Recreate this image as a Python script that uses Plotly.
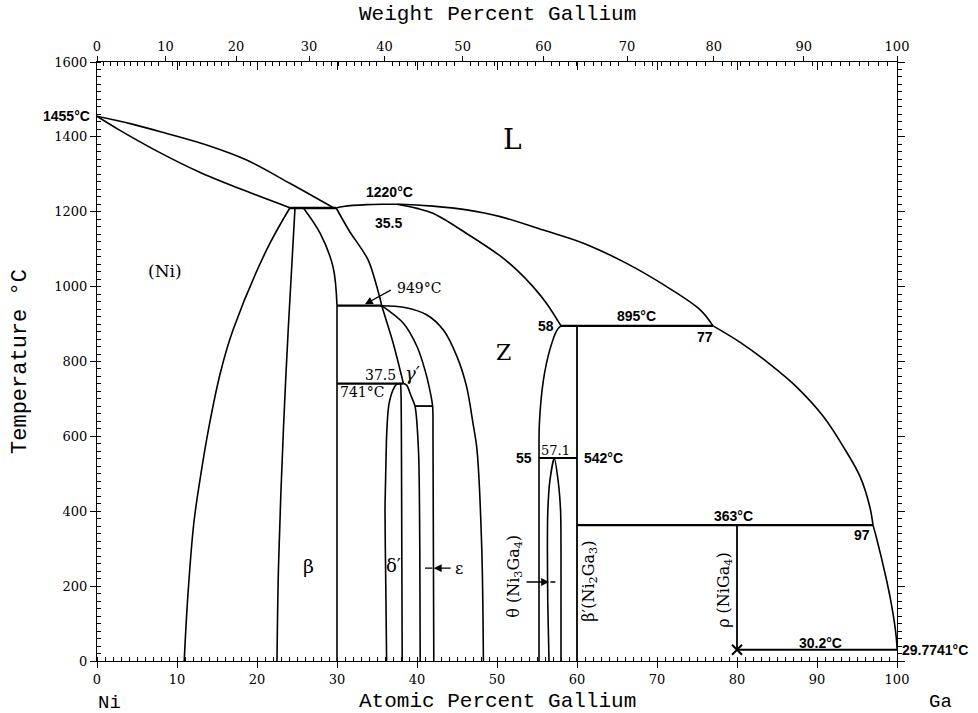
import plotly.graph_objects as go

# ---------------- data (atomic % Ga, temperature degC) ----------------
ni_liquidus_at = [0, 4.4, 8.7, 13.7, 18.7, 24.1, 29.6]
ni_liquidus_T = [1455, 1434, 1409, 1378, 1338, 1276, 1210]

ni_solidus_at = [0, 2.5, 7.5, 12.9, 19.5, 24.1]
ni_solidus_T = [1455, 1422, 1362, 1305, 1248, 1211]

eutectic_1210_at = [24.1, 29.9]
eutectic_1210_T = [1210, 1210]

# liquidus on the Ga-rich side, split at the invariant points (895 and 363 degC)
liquidus_hump_at = [29.9, 30.8, 33.7, 36.0, 37.9, 42.0, 46.2, 50.4, 55.8, 60.8, 66.2, 71.2, 75.4, 77.0]
liquidus_hump_T = [1210, 1214, 1219, 1220, 1220, 1215, 1205, 1187, 1151, 1116, 1062, 1000, 938, 895]

liquidus_mid_at = [77.0, 80.4, 84.1, 87.5, 90.8, 93.3, 95.4, 96.6, 97.0]
liquidus_mid_T = [895, 851, 793, 731, 653, 572, 492, 412, 363]

liquidus_ga_at = [97.0, 97.4, 98.6, 99.2, 99.8, 100.0, 100.0]
liquidus_ga_T = [363, 332, 225, 163, 83, 38, 29.8]

beta_solidus_at = [37.5, 40.0, 42.0, 46.2, 50.4, 52.5, 54.5, 56.2, 58.0]
beta_solidus_T = [1220, 1209, 1196, 1142, 1082, 1044, 1000, 955, 895]

ni_solvus_at = [24.1, 21.2, 17.0, 15.4, 14.0, 13.0, 12.1, 11.35, 10.9]
ni_solvus_T = [1210, 1098, 884, 768, 626, 501, 368, 172, 0]

beta_left_at = [24.75, 23.9, 23.3, 22.7, 22.5]
beta_left_T = [1210, 884, 617, 261, 0]

beta_right_at = [25.8, 27.9, 29.5, 30.0]
beta_right_T = [1210, 1142, 1053, 949]

vertical_30_at = [30, 30]
vertical_30_T = [949, 0]

line_949_at = [30, 35.6]
line_949_T = [949, 949]

curve_d_at = [29.9, 31.5, 33.9, 35.3, 35.6, 37.0, 38.1, 38.3]
curve_d_T = [1210, 1150, 1071, 975, 949, 851, 759, 741]

curve_e_at = [35.6, 38.3, 40.0, 41.0, 41.6, 41.95, 42.0, 42.1]
curve_e_T = [949, 902, 840, 777, 724, 681, 590, 0]

curve_f_at = [35.6, 38.3, 41.2, 43.3, 45.0, 46.2, 47.0, 47.5, 48.1, 48.3]
curve_f_T = [949, 945, 925, 884, 813, 733, 635, 564, 297, 0]

line_741_at = [30, 38.3]
line_741_T = [741, 741]

curve_g_at = [38.3, 38.7, 39.3, 39.75, 40.2, 40.35, 40.4]
curve_g_T = [741, 737, 706, 681, 555, 300, 0]

line_681_at = [39.75, 42.0]
line_681_T = [681, 681]

delta_dome_at = [36.2, 36.1, 36.0, 36.1, 36.2, 36.4, 36.6, 37.0, 37.4, 37.9, 38.0, 38.05, 38.1, 38.15]
delta_dome_T = [0, 200, 400, 510, 600, 671, 697, 724, 738, 741, 715, 600, 300, 0]

z_left_at = [58.0, 57.5, 56.6, 55.8, 55.3, 55.25, 55.25]
z_left_T = [895, 884, 831, 750, 635, 542, 0]

line_895_at = [58, 77]
line_895_T = [895, 895]

vertical_60_at = [60, 60]
vertical_60_T = [895, 0]

line_542_at = [55.25, 60]
line_542_T = [542, 542]

theta_dome_at = [56.5, 56.35, 56.3, 56.35, 56.6, 57.15, 57.65, 57.95, 58.0, 58.0, 58.0]
theta_dome_T = [0, 150, 300, 400, 480, 542, 480, 400, 300, 150, 0]

line_363_at = [60, 97]
line_363_T = [363, 363]

vertical_80_at = [80, 80]
vertical_80_T = [363, 30.2]

line_30_at = [80, 100]
line_30_T = [30.2, 30.2]

marker_at = [80]
marker_T = [30.2]

x_tick_vals = list(range(0, 101, 10))
y_tick_vals = list(range(0, 1601, 200))
wt_tick_labels = list(range(0, 101, 10))

M_GA = 69.723
M_NI = 58.6934


def wt_to_at(w):
    if w <= 0:
        return 0.0
    if w >= 100:
        return 100.0
    a = w / M_GA
    b = (100 - w) / M_NI
    return 100 * a / (a + b)


# ---------------- figure ----------------
fig = go.Figure()

curves = [
    (ni_liquidus_at, ni_liquidus_T, 1.0), (ni_solidus_at, ni_solidus_T, 1.0),
    (liquidus_hump_at, liquidus_hump_T, 1.0), (liquidus_mid_at, liquidus_mid_T, 1.0),
    (liquidus_ga_at, liquidus_ga_T, 0.8),
    (beta_solidus_at, beta_solidus_T, 1.0),
    (ni_solvus_at, ni_solvus_T, 1.0), (beta_left_at, beta_left_T, 1.0),
    (beta_right_at, beta_right_T, 1.0), (curve_d_at, curve_d_T, 0.8),
    (curve_e_at, curve_e_T, 0.8), (curve_f_at, curve_f_T, 0.9),
    (curve_g_at, curve_g_T, 0.7), (delta_dome_at, delta_dome_T, 0.6),
    (z_left_at, z_left_T, 0.9), (theta_dome_at, theta_dome_T, 0.6),
]
for xs, ys, sm in curves:
    fig.add_trace(go.Scatter(x=xs, y=ys, mode="lines",
                             line=dict(color="black", width=1.6, shape="spline", smoothing=sm),
                             showlegend=False, hoverinfo="skip"))

straight = [
    (eutectic_1210_at, eutectic_1210_T, 2.4), (line_949_at, line_949_T, 2.2),
    (line_741_at, line_741_T, 2.2), (line_681_at, line_681_T, 1.8),
    (line_895_at, line_895_T, 2.2), (line_542_at, line_542_T, 2.0),
    (line_363_at, line_363_T, 2.2), (line_30_at, line_30_T, 2.0),
    (vertical_30_at, vertical_30_T, 1.6), (vertical_60_at, vertical_60_T, 1.8),
    (vertical_80_at, vertical_80_T, 1.8),
]
for xs, ys, w in straight:
    fig.add_trace(go.Scatter(x=xs, y=ys, mode="lines",
                             line=dict(color="black", width=w),
                             showlegend=False, hoverinfo="skip"))

fig.add_trace(go.Scatter(x=marker_at, y=marker_T, mode="markers",
                         marker=dict(symbol="x-thin", size=10, line=dict(color="black", width=2)),
                         showlegend=False, hoverinfo="skip", cliponaxis=False))

# invisible traces to activate overlay axes
fig.add_trace(go.Scatter(x=[0, 100], y=[0, 0], xaxis="x2", yaxis="y", mode="markers",
                         marker=dict(opacity=0), showlegend=False, hoverinfo="skip"))
fig.add_trace(go.Scatter(x=[0, 100], y=[0, 0], xaxis="x3", yaxis="y", mode="markers",
                         marker=dict(opacity=0), showlegend=False, hoverinfo="skip"))
fig.add_trace(go.Scatter(x=[0, 100], y=[0, 0], xaxis="x", yaxis="y2", mode="markers",
                         marker=dict(opacity=0), showlegend=False, hoverinfo="skip"))

SERIF = "DejaVu Serif"
SANS = "Liberation Sans"
MONO = "Liberation Mono"
tickfont = dict(family=SERIF, size=13, color="black")

wt_major = [wt_to_at(w) for w in wt_tick_labels]
wt_minor = [wt_to_at(w) for w in range(1, 100) if w % 10 != 0]

fig.update_layout(
    width=978, height=713,
    margin=dict(l=97, r=81, t=62, b=52, autoexpand=False),
    paper_bgcolor="white", plot_bgcolor="white",
    showlegend=False,
    xaxis=dict(range=[0, 100], tickmode="array", tickvals=x_tick_vals, automargin=False,
               ticks="outside", ticklen=6, tickcolor="black", tickwidth=1,
               showline=True, linecolor="black", linewidth=1, showgrid=False, zeroline=False,
               tickfont=tickfont,
               minor=dict(dtick=1, ticks="inside", ticklen=4, tickcolor="black", showgrid=False)),
    xaxis2=dict(range=[0, 100], overlaying="x", side="top", anchor="y", automargin=False,
                tickmode="array", tickvals=wt_major, ticktext=[str(v) for v in wt_tick_labels],
                ticks="outside", ticklen=5, tickcolor="black", tickwidth=1,
                showline=True, linecolor="black", linewidth=1, showgrid=False, zeroline=False,
                tickfont=tickfont,
                minor=dict(tickmode="array", tickvals=wt_minor, ticks="inside", ticklen=4,
                           tickcolor="black", showgrid=False)),
    xaxis3=dict(range=[0, 100], overlaying="x", side="top", anchor="y", automargin=False,
                tickmode="array", tickvals=x_tick_vals, ticks="inside", ticklen=8,
                tickcolor="black", showticklabels=False, showline=False, showgrid=False,
                zeroline=False),
    yaxis=dict(range=[0, 1600], tickmode="array", tickvals=y_tick_vals, automargin=False,
               ticks="outside", ticklen=6, tickcolor="black", tickwidth=1,
               showline=True, linecolor="black", linewidth=1, showgrid=False, zeroline=False,
               tickfont=tickfont,
               minor=dict(dtick=20, ticks="inside", ticklen=4, tickcolor="black", showgrid=False)),
    yaxis2=dict(range=[0, 1600], overlaying="y", side="right", anchor="x", automargin=False,
                tickmode="array", tickvals=y_tick_vals, ticks="outside", ticklen=7,
                tickcolor="black", showticklabels=False,
                showline=True, linecolor="black", linewidth=1, showgrid=False, zeroline=False,
                minor=dict(dtick=20, ticks="outside", ticklen=4, tickcolor="black", showgrid=False)),
)

ann = []


def txt(x, y, s, family=SANS, size=14, bold=False, xanchor="center", angle=0, italic=False,
        ref="data"):
    style = "italic" if italic else "normal"
    xr, yr = ("x", "y") if ref == "data" else ("paper", "paper")
    ann.append(dict(x=x, y=y, xref=xr, yref=yr, text=s, showarrow=False,
                    xanchor=xanchor, yanchor="middle", textangle=angle,
                    font=dict(family=family, size=size, color="black",
                              weight="bold" if bold else "normal", style=style)))


def arrow(x_tip, y_tip, x_tail, y_tail, head=2):
    ann.append(dict(x=x_tip, y=y_tip, ax=x_tail, ay=y_tail, xref="x", yref="y",
                    axref="x", ayref="y", text="", showarrow=True,
                    arrowhead=head, arrowsize=1.2, arrowwidth=1.3, arrowcolor="black"))


# axis titles (paper coordinates)
txt(0.5, 1.0801, "Weight Percent Gallium", family=MONO, size=21, ref="paper")
txt(0.5, -0.0668, "Atomic Percent Gallium", family=MONO, size=21, ref="paper")
txt(-0.0963, 0.5008, "Temperature °C", family=MONO, size=22, angle=-90, ref="paper")

txt(-0.006, 0.910, "1455°C", size=14, bold=True, xanchor="right", ref="paper")
txt(51.9, 1394, "L", family=SERIF, size=28)
txt(36.6, 1253, "1220°C", size=14, bold=True)
txt(36.4, 1170, "35.5", size=14, bold=True)
txt(8.5, 1042, "(Ni)", family=SERIF, size=17)
txt(37.2, 996, "949°C", family=SERIF, size=14, xanchor="left")
arrow(33.5, 953, 36.9, 993)
txt(50.75, 823, "Z", family=SERIF, size=22)
txt(57.4, 895, "58", size=14, bold=True, xanchor="right")
txt(67.4, 921, "895°C", size=14, bold=True)
txt(76.0, 865, "77", size=14, bold=True)
txt(35.4, 764, "37.5", family=SERIF, size=14)
txt(33.1, 718, "741°C", family=SERIF, size=14)
txt(39.4, 767, "γ′", family=SERIF, size=18, italic=True)
txt(26.4, 254, "β", family=SERIF, size=19)
txt(37.0, 256, "δ′", family=SERIF, size=18)
txt(45.3, 246, "ε", family=SERIF, size=16)
arrow(42.1, 248, 44.4, 248)
arrow(41.0, 248, 42.1, 248, head=0)
txt(53.4, 542, "55", size=14, bold=True)
txt(57.25, 561, "57.1", family=SERIF, size=13)
txt(60.6, 542, "542°C", size=14, bold=True, xanchor="left")
txt(52.1, 227, "θ (Ni<sub>3</sub>Ga<sub>4</sub>)", family=SERIF, size=16, angle=-90)
arrow(56.5, 211, 53.5, 211)
arrow(57.3, 211, 56.5, 211, head=0)
txt(61.6, 214, "β′(Ni<sub>2</sub>Ga<sub>3</sub>)", family=SERIF, size=16, angle=-90)
txt(79.5, 387, "363°C", size=14, bold=True)
txt(95.6, 336, "97", size=14, bold=True)
txt(78.5, 190, "ρ (NiGa<sub>4</sub>)", family=SERIF, size=16, angle=-90)
txt(90.4, 48, "30.2°C", size=14, bold=True)
txt(1.004, 0.0184, "29.7741°C", size=14, bold=True, xanchor="left", ref="paper")
txt(0.016, -0.0701, "Ni", family=MONO, size=19, ref="paper")
txt(1.054, -0.0684, "Ga", family=MONO, size=19, ref="paper")

fig.update_layout(annotations=ann)

fig.write_html("out.html")
